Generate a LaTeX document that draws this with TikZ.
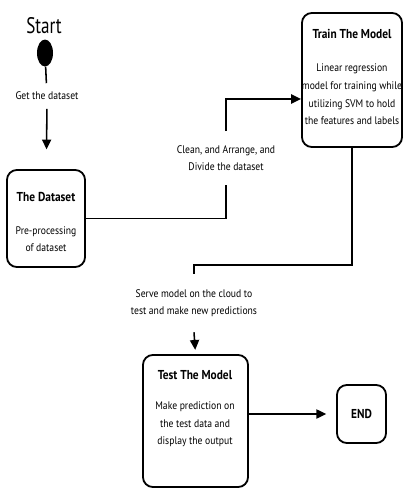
\documentclass[tikz,border=0pt]{standalone}
\usepackage{fontspec}
\setmainfont{PT Sans}
\newfontfamily\condsans[FakeStretch=0.88]{PT Sans}
\newfontfamily\startfont[FakeStretch=0.76]{PT Sans}
\usetikzlibrary{arrows.meta,shapes.geometric,positioning}

\begin{document}
\begin{tikzpicture}[x=0.025cm,y=-0.025cm,
    box/.style={draw,line width=1.3pt,rounded corners=7pt,inner sep=0pt},
    flow/.style={line width=1.1pt},
    arr/.style={flow,-{Triangle[length=7pt,width=6.5pt]}},
    txt/.style={font=\condsans\fontsize{7.8}{12.5}\selectfont,align=center,inner sep=0pt},
    ttl/.style={font=\condsans\fontsize{9.2}{10}\selectfont\bfseries,inner sep=0pt},
    lbl/.style={txt}]
  \useasboundingbox (0,0) rectangle (405,495);

  % start
  \node[font=\startfont\fontsize{16}{18}\selectfont] (start) at (44,26) {Start};
  \node[ellipse,fill=black,inner sep=0pt,minimum width=0.4cm,minimum height=0.675cm] (dot) at (45,53) {};

  % boxes
  \node[box,minimum width=1.95cm,minimum height=2.425cm] (dataset) at (46,218.5) {};
  \node[ttl] (datasettl) at (46,197) {The Dataset};
  \node[txt] (datasetxt) at (46,239) {Pre-processing\\of dataset};

  \node[box,minimum width=2.5cm,minimum height=3.35cm] (train) at (352,80) {};
  \node[ttl] (traintl) at (352,34) {Train The Model};
  \node[txt] (traintxt) at (352,94.5) {Linear regression\\model for training while\\utilizing SVM to hold\\the features and labels};

  \node[box,minimum width=2.625cm,minimum height=3.3cm] (test) at (195.5,421) {};
  \node[ttl] (testtl) at (195,375) {Test The Model};
  \node[txt] (testtxt) at (195,424.5) {Make prediction on\\the test data and\\display the output};

  \node[box,minimum width=1.225cm,minimum height=1.45cm] (endnode) at (361.5,414) {\condsans\fontsize{9.2}{10}\selectfont\bfseries END};

  % labels on the connectors
  \node[lbl,minimum height=0.625cm] (getlbl) at (47,96) {Get the dataset};
  \node[lbl,minimum height=1.325cm] (cleanlbl) at (226,158) {Clean, and Arrange, and\\Divide the dataset};
  \node[lbl,minimum height=1.45cm] (servelbl) at (194,303) {Serve model on the cloud to\\test and make new predictions};
  \coordinate (turn) at (194,265);

  % connectors
  \draw[flow] (dot) -- (getlbl);
  \draw[arr,shorten >=14pt] (getlbl) -- (dataset);
  \draw[flow] (dataset.east) -| (cleanlbl.south);
  \draw[arr] (cleanlbl.north) |- ([yshift=-13.5pt]train.west);
  \draw[flow] (train.south) |- (turn) -- (servelbl.north);
  \draw[arr,shorten >=3pt] (servelbl.south) -- (test.north);
  \draw[arr,shorten >=7pt] (test.east |- endnode.west) -- (endnode.west);
\end{tikzpicture}
\end{document}
